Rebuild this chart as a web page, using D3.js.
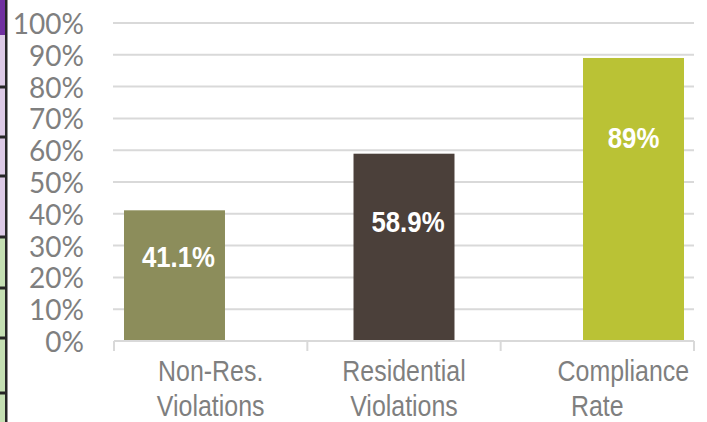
<!DOCTYPE html>
<html><head><meta charset="utf-8">
<script src="https://cdn.jsdelivr.net/npm/d3@7"></script>
<style>
html,body{margin:0;padding:0;background:#fff;}
svg{display:block;}
</style></head>
<body>
<svg id="chart" width="707" height="422"></svg>
<script>
const categories = ["Non-Res.|Violations", "Residential|Violations", "Compliance|Rate"];
const values = [0.411, 0.589, 0.89];
const valueLabels = ["41.1%", "58.9%", "89%"];
const labelAt = [0.233, 0.344, 0.607];
const yTicks = [0, 0.1, 0.2, 0.3, 0.4, 0.5, 0.6, 0.7, 0.8, 0.9, 1.0];
const barColors = ["#8C8D5B", "#4B403A", "#BAC235"];

// left-edge decoration strip (cropped neighbour)
const stripSegs = [[0,35,"#7030A0"],[35,87,"#DCCAE6"],[87,137,"#DCCAE6"],[137,176,"#DCCAE6"],[176,237,"#DCCAE6"],[237,288,"#C5E0B3"],[288,338,"#C5E0B3"],[338,393,"#C5E0B3"],[393,422,"#C5E0B3"]];

const svg = d3.select("#chart");
const y = d3.scaleLinear().domain([0, 1]).range([341, 23]);
const xAxis = d3.scaleBand().domain(categories).range([114, 694]).padding(0);
const xBar = d3.scaleBand().domain(categories).range([124, 684]).paddingInner(0.56).paddingOuter(0);
const NARROW = 0.86;
const sans = "'Liberation Sans', Arial, sans-serif";

// strip
const strip = svg.append("g");
strip.selectAll("rect.seg").data(stripSegs).join("rect")
  .attr("x", 0).attr("y", d => d[0]).attr("width", 6).attr("height", d => d[1] - d[0])
  .attr("fill", d => d[2]);
strip.selectAll("rect.sep").data(stripSegs.slice(1).filter(d => d[0] !== 35)).join("rect")
  .attr("x", 0).attr("y", d => d[0] - 1.5).attr("width", 7).attr("height", 3).attr("fill", "#262626");
strip.append("rect").attr("x", 5).attr("y", 0).attr("width", 2.5).attr("height", 422).attr("fill", "#262626");

// gridlines
svg.append("g").selectAll("line").data(yTicks.filter(d => d > 0)).join("line")
  .attr("x1", 113).attr("x2", 694)
  .attr("y1", d => y(d)).attr("y2", d => y(d))
  .attr("stroke", "#D9D9D9").attr("stroke-width", 2);

// y labels
svg.append("g").selectAll("text").data(yTicks).join("text")
  .attr("x", 84).attr("y", d => y(d))
  .attr("text-anchor", "end").attr("dominant-baseline", "central")
  .attr("font-family", "Lato, 'Noto Sans', sans-serif").attr("font-size", 28)
  .attr("fill", "#7F7F7F")
  .text(d => Math.round(d * 100) + "%");

// bars
svg.append("g").selectAll("rect").data(values).join("rect")
  .attr("x", (d, i) => xBar(categories[i]))
  .attr("width", xBar.bandwidth())
  .attr("y", d => y(d))
  .attr("height", d => y(0) - y(d))
  .attr("fill", (d, i) => barColors[i]);

// axis line and ticks
const ax = svg.append("g");
ax.append("line").attr("x1", 114).attr("x2", 694).attr("y1", y(0)).attr("y2", y(0))
  .attr("stroke", "#D9D9D9").attr("stroke-width", 2);
const bounds = categories.map(c => xAxis(c)).concat([xAxis.range()[1]]);
ax.selectAll("line.tk").data(bounds).join("line").attr("class", "tk")
  .attr("x1", d => d).attr("x2", d => d).attr("y1", y(0)).attr("y2", y(0) + 10)
  .attr("stroke", "#D9D9D9").attr("stroke-width", 2);

// value labels
svg.append("g").selectAll("text").data(valueLabels).join("text")
  .attr("transform", (d, i) => `translate(${xBar(categories[i]) + xBar.bandwidth() / 2 + (i < 2 ? 4 : 0)},${y(labelAt[i])}) scale(${NARROW},1)`)
  .attr("text-anchor", "middle")
  .attr("font-family", sans)
  .attr("font-weight", "bold").attr("font-size", 30).attr("fill", "#FFFFFF")
  .text(d => d);

// category labels
const lineShift = {"Compliance": 26};
const cl = svg.append("g");
categories.forEach(c => {
  const lines = c.split("|");
  lines.forEach((ln, j) => {
    cl.append("text")
      .attr("transform", `translate(${xAxis(c) + xAxis.bandwidth() / 2 + (lineShift[ln] || 0)},${381 + j * 35}) scale(${NARROW},1)`)
      .attr("text-anchor", "middle")
      .attr("font-family", sans)
      .attr("font-size", 29).attr("fill", "#7F7F7F")
      .text(ln);
  });
});
</script>
</body></html>
